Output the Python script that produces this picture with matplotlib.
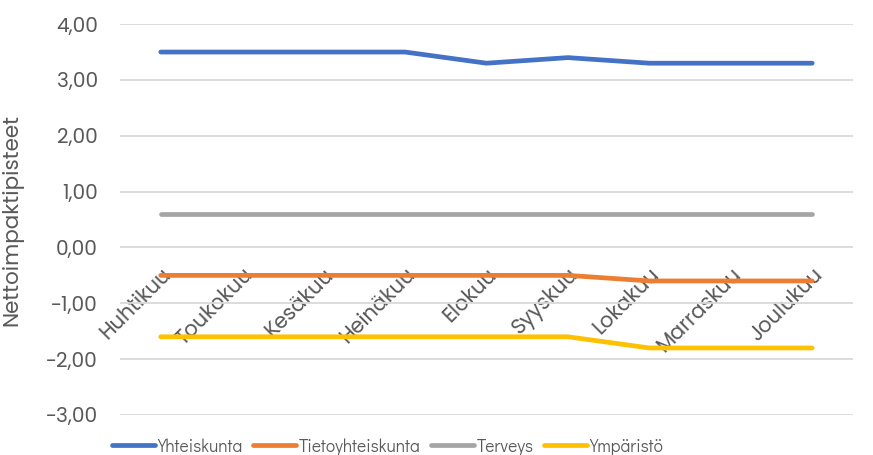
import matplotlib.pyplot as plt

# data
months = ["Huhtikuu", "Toukokuu", "Kesäkuu", "Heinäkuu", "Elokuu",
          "Syyskuu", "Lokakuu", "Marraskuu", "Joulukuu"]
yhteiskunta = [3.5, 3.5, 3.5, 3.5, 3.3, 3.4, 3.3, 3.3, 3.3]
tietoyhteiskunta = [-0.5, -0.5, -0.5, -0.5, -0.5, -0.5, -0.6, -0.6, -0.6]
terveys = [0.6, 0.6, 0.6, 0.6, 0.6, 0.6, 0.6, 0.6, 0.6]
ymparisto = [-1.6, -1.6, -1.6, -1.6, -1.6, -1.6, -1.8, -1.8, -1.8]
yticks = [-3, -2, -1, 0, 1, 2, 3, 4]

series = [
    ("Yhteiskunta", yhteiskunta, "#4472C4"),
    ("Tietoyhteiskunta", tietoyhteiskunta, "#ED7D31"),
    ("Terveys", terveys, "#A5A5A5"),
    ("Ympäristö", ymparisto, "#FFC000"),
]

# Montserrat is only a variable (thin) font here, Poppins is the closest static one
plt.rcParams['font.family'] = ['Poppins', 'DejaVu Sans']
txt = "#595959"

fig = plt.figure(figsize=(8.73, 4.55), dpi=100)
ax = fig.add_axes([0.1375, 0.088, 0.977 - 0.1375, 0.947 - 0.088])

x = list(range(len(months)))
for name, vals, col in series:
    ax.plot(x, vals, color=col, lw=3.4, solid_capstyle='round',
            solid_joinstyle='round', label=name)

ax.set_xlim(-0.5, len(months) - 0.5)
ax.set_ylim(-3, 4)
ax.set_yticks(yticks)
ax.set_yticklabels([("-" if v < 0 else "") + f"{abs(v)},00" for v in yticks])
ax.grid(axis='y', color='#D9D9D9', lw=1.3)
ax.set_axisbelow(True)
for s in ['top', 'right', 'left']:
    ax.spines[s].set_visible(False)
ax.spines['bottom'].set_position(('data', 0))
ax.spines['bottom'].set_visible(False)

ax.set_xticks(x)
ax.set_xticklabels(months, rotation=45, ha='right', rotation_mode='anchor')
ax.tick_params(axis='x', length=0, pad=12, labelsize=15, labelcolor=txt)
ax.tick_params(axis='y', length=0, pad=16, labelsize=14.5, labelcolor=txt)

ax.set_ylabel("Nettoimpaktipisteet", fontsize=15.5, color=txt)
ax.yaxis.set_label_coords(-0.132, 0.5)

ax.legend(loc='center left', bbox_to_anchor=(0.11, 0.018), bbox_transform=fig.transFigure,
          ncol=4, frameon=False, handlelength=2.5, handletextpad=0.13,
          columnspacing=0.6, labelcolor=txt,
          prop={'family': ['Didact Gothic', 'DejaVu Sans'], 'size': 12.5})

plt.savefig('out.png', dpi=100)
